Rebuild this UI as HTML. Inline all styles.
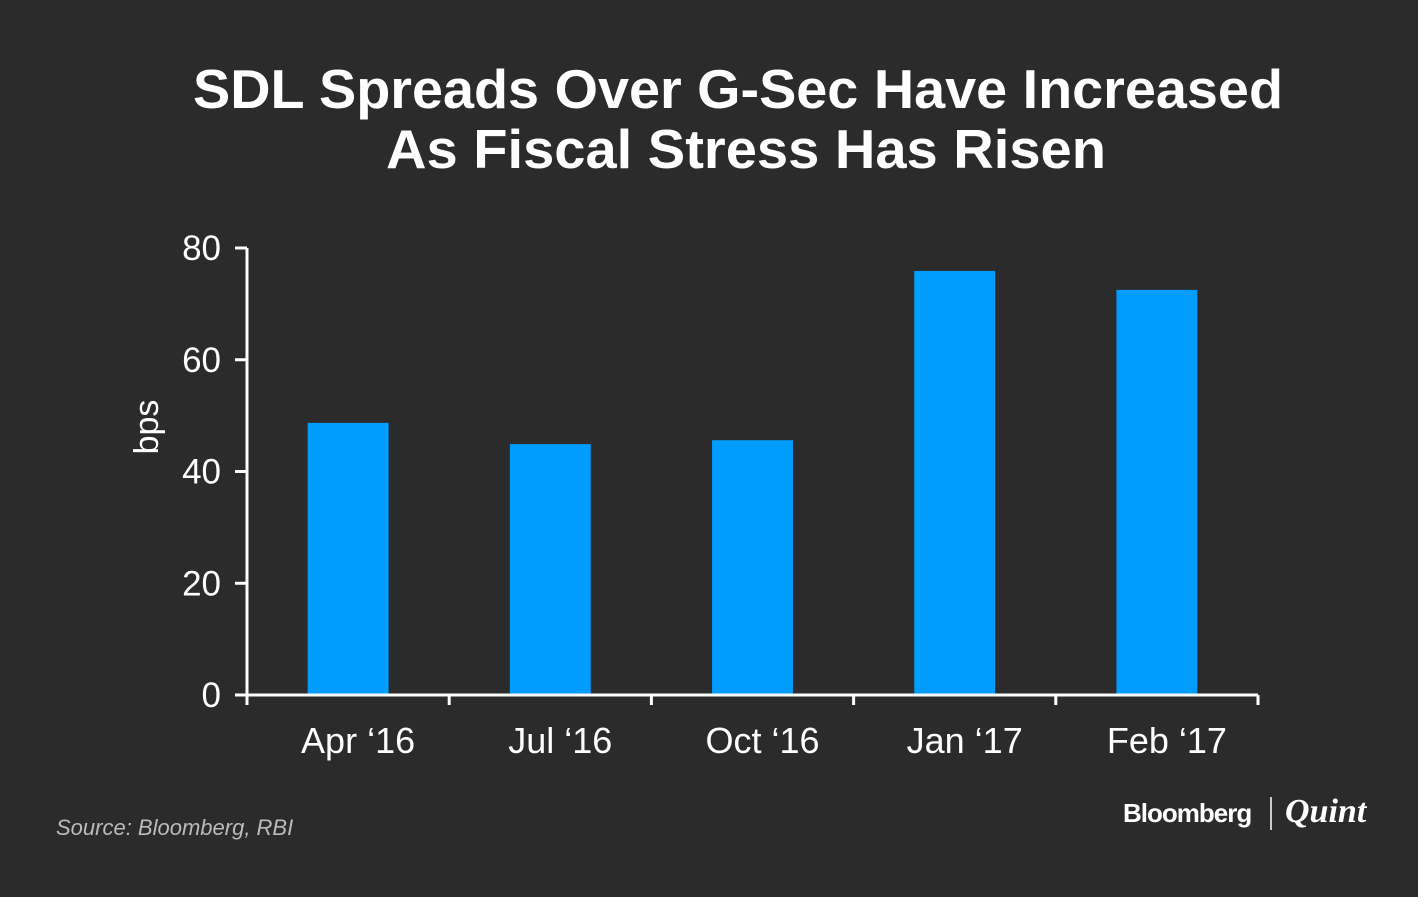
<!DOCTYPE html>
<html><head><meta charset="utf-8"><style>
html,body{margin:0;padding:0;background:#2b2b2b;}
svg{display:block;font-family:"Liberation Sans",sans-serif;}
</style></head><body>
<svg id="chart" width="1418" height="897" viewBox="0 0 1418 897">
<rect width="1418" height="897" fill="#2b2b2b"/>
<text x="738" y="108" text-anchor="middle" fill="#fff" font-size="55" font-weight="bold" textLength="1090" lengthAdjust="spacingAndGlyphs">SDL Spreads Over G-Sec Have Increased</text>
<text x="746" y="168" text-anchor="middle" fill="#fff" font-size="55" font-weight="bold" textLength="720" lengthAdjust="spacingAndGlyphs">As Fiscal Stress Has Risen</text>
<text transform="translate(158,427) rotate(-90)" text-anchor="middle" fill="#fff" font-size="34">bps</text>
<g id="bars"></g>
<g id="axes"></g>
<text x="56" y="835" fill="#bbb" font-size="22" font-style="italic">Source: Bloomberg, RBI</text>
<text x="1123" y="822" fill="#fff" font-size="26" font-weight="bold" letter-spacing="-1">Bloomberg</text>
<line x1="1271" y1="797" x2="1271" y2="830" stroke="#fff" stroke-width="1.5"/>
<text x="1285" y="822" fill="#fff" font-size="34" font-style="italic" font-weight="bold" font-family="Liberation Serif,serif">Quint</text>
</svg>
<script>
const categories=["Apr \u201816","Jul \u201816","Oct \u201816","Jan \u201817","Feb \u201817"];
const values=[48.7,44.9,45.6,75.9,72.5];
const yTicks=[0,20,40,60,80];
const NS="http://www.w3.org/2000/svg";
const x0=247,x1=1258,y0=695,y1=248,yMax=80;
const band=(x1-x0)/categories.length;
function yScale(v){return y0-(v/yMax)*(y0-y1);}
function xCenter(i){return x0+band*(i+0.5);}
function mk(tag,attrs,parent){const e=document.createElementNS(NS,tag);for(const k in attrs)e.setAttribute(k,attrs[k]);parent.appendChild(e);return e;}
const bars=document.getElementById('bars'),axes=document.getElementById('axes');
const bw=band*0.4;
values.forEach((v,i)=>{
 const r=mk('rect',{x:xCenter(i)-bw/2,y:yScale(v),width:bw,height:y0-yScale(v),fill:'#009dff'},bars);
 
 
 const t=mk('text',{x:xCenter(i)+10,y:753,'text-anchor':'middle',fill:'#fff','font-size':36},axes);
 t.textContent=categories[i];
 
 
});
const ya=mk('line',{x1:x0,y1:y1,x2:x0,y2:y0+8,stroke:'#fff','stroke-width':3},axes);


const xa=mk('line',{x1:x0,y1:y0,x2:x1,y2:y0,stroke:'#fff','stroke-width':3},axes);


for(let i=0;i<=categories.length;i++){
 const l=mk('line',{x1:x0+band*i,y1:y0,x2:x0+band*i,y2:y0+10,stroke:'#fff','stroke-width':3},axes);
 
 
}
yTicks.forEach(v=>{
 const l=mk('line',{x1:x0-12,y1:yScale(v),x2:x0,y2:yScale(v),stroke:'#fff','stroke-width':3},axes);
 
 
 const t=mk('text',{x:221,y:yScale(v)+12,'text-anchor':'end',fill:'#fff','font-size':35},axes);
 t.textContent=v;
 
 
});
</script>
</body></html>
